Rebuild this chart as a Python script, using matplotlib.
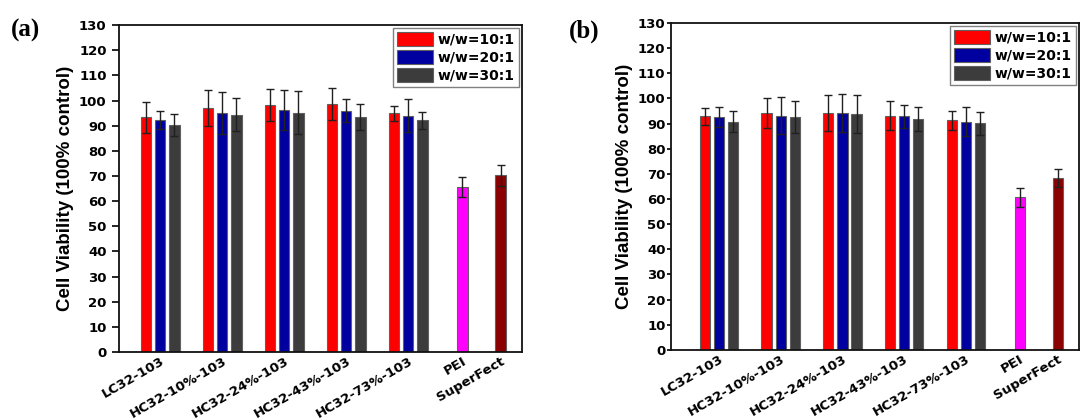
import numpy as np
import matplotlib
matplotlib.use('Agg')
import matplotlib.pyplot as plt
from matplotlib.patches import Patch
from matplotlib.transforms import ScaledTranslation

plt.rcParams['font.family'] = ['DejaVu Sans']
plt.rcParams['font.weight'] = 'bold'

groups = ['LC32-103', 'HC32-10%-103', 'HC32-24%-103', 'HC32-43%-103', 'HC32-73%-103']
controls = ['PEI', 'SuperFect']
ratios = ['w/w=10:1', 'w/w=20:1', 'w/w=30:1']

# panel (a)
a_mean = [
    [93.3, 97.1, 98.3, 98.7, 94.9],
    [92.1, 94.9, 96.1, 95.9, 93.9],
    [90.3, 94.3, 95.2, 93.3, 92.1],
]
a_err = [
    [6.3, 7.2, 6.4, 6.3, 3.0],
    [3.6, 8.4, 8.0, 4.6, 6.6],
    [4.3, 6.6, 8.4, 5.2, 3.4],
]
a_ctrl = [65.5, 70.2]
a_ctrl_err = [3.9, 4.3]

# panel (b)
b_mean = [
    [92.9, 94.1, 94.1, 93.2, 91.3],
    [92.6, 93.2, 94.1, 92.9, 90.7],
    [90.7, 92.6, 93.8, 91.7, 90.1],
]
b_err = [
    [3.4, 6.0, 7.2, 5.6, 3.8],
    [4.0, 7.4, 7.6, 4.5, 5.7],
    [4.2, 6.2, 7.6, 4.7, 4.5],
]
b_ctrl = [60.6, 68.3]
b_ctrl_err = [3.7, 3.5]

colors = ['#ff0000', '#0000a0', '#3c3c3c']
ctrl_colors = ['#ff00ff', '#8b0000']

fig = plt.figure(figsize=(10.83, 4.18), dpi=100)
ax_a = fig.add_axes([0.110, 0.158, 0.372, 0.782])
ax_b = fig.add_axes([0.6196, 0.163, 0.3767, 0.782])


def draw(ax, means, errs, ctrl, ctrl_err, xlim, ylab_x, tick_len, tick_pad, tag, tag_x):
    x = np.arange(1, len(groups) + 1)
    step = 0.229
    w = 0.166
    ekw = dict(ecolor='#202020', elinewidth=1.0, capsize=3, capthick=1.0)
    for i in range(3):
        ax.bar(x + (i - 1) * step, means[i], w, yerr=errs[i],
               color=colors[i], edgecolor='#606060', linewidth=0.8, error_kw=ekw)
    xc = np.array([len(groups) + 0.875, len(groups) + 1.49])
    ax.bar(xc, ctrl, w, yerr=ctrl_err, color=ctrl_colors,
           edgecolor='#606060', linewidth=0.8, error_kw=ekw)
    ax.set_xlim(*xlim)
    ax.set_ylim(0, 130)
    ax.set_yticks(np.arange(0, 131, 10))
    ax.set_xticks(list(x) + list(xc))
    ax.set_xticklabels(groups + controls, rotation=30, ha='right',
                       rotation_mode='anchor', fontsize=9.5, fontweight='bold')
    off = ScaledTranslation(20 / 100, -3 / 100, fig.dpi_scale_trans)
    for lab in ax.get_xticklabels():
        lab.set_transform(lab.get_transform() + off)
    ax.tick_params(axis='x', length=0, pad=2)
    ax.tick_params(axis='y', direction='out', length=tick_len, width=1.2,
                   labelsize=9.5, pad=tick_pad)
    for lab in ax.get_yticklabels():
        lab.set_fontweight('bold')
    for s in ax.spines.values():
        s.set_linewidth(1.3)
        s.set_color('#111111')
    ax.set_ylabel('Cell Viability (100% control)', fontsize=13.5, fontweight='bold',
                  family='Liberation Sans')
    ax.yaxis.set_label_coords(ylab_x, 0.5)
    handles = [Patch(facecolor=c, edgecolor='#606060', linewidth=0.8) for c in colors]
    ax.legend(handles, ratios, loc='upper right', frameon=True,
              fancybox=False, edgecolor='#808080', framealpha=1,
              handlelength=2.6, handleheight=1.19, labelspacing=0.24,
              handletextpad=0.36, borderpad=0.3, borderaxespad=0.2,
              prop=dict(family='DejaVu Sans', weight='bold', size=10))
    fig.text(tag_x, 0.926, tag, fontsize=18, fontweight='bold',
             family='Liberation Serif', ha='left', va='center')


draw(ax_a, a_mean, a_err, a_ctrl, a_ctrl_err, (0.337, 6.835), -0.112, 5, 4, '(a)', 11 / 1083)
draw(ax_b, b_mean, b_err, b_ctrl, b_ctrl_err, (0.222, 6.835), -0.093, 3, 1, '(b)', 569 / 1083)

fig.savefig('out.png', dpi=100)
